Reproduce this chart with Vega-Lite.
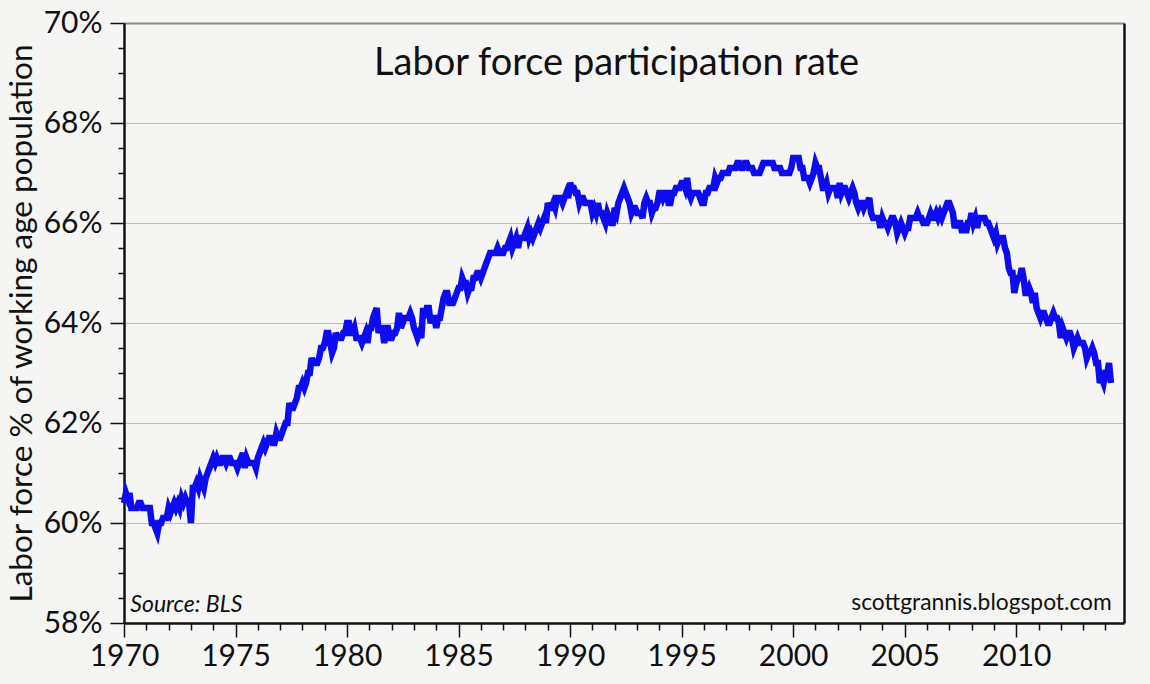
{
  "$schema": "https://vega.github.io/schema/vega-lite/v6.json",
  "width": 1000,
  "height": 600,
  "autosize": {"type": "none"},
  "padding": {"left": 124, "top": 23, "right": 26, "bottom": 61},
  "background": "#f5f5f3",
  "config": {
    "view": {"stroke": null},
    "font": "Lato",
    "text": {"font": "Lato", "color": "#111"}
  },
  "resolve": {"axis": {"y": "independent"}},
  "layer": [
    {
      "data": {
        "values": [
          {"d":"1970-01","v":60.4},{"d":"1970-02","v":60.6},{"d":"1970-03","v":60.5},{"d":"1970-04","v":60.6},{"d":"1970-05","v":60.3},{"d":"1970-06","v":60.3},{"d":"1970-07","v":60.3},{"d":"1970-08","v":60.3},{"d":"1970-09","v":60.4},{"d":"1970-10","v":60.4},{"d":"1970-11","v":60.3},{"d":"1970-12","v":60.3},
          {"d":"1971-01","v":60.3},{"d":"1971-02","v":60.3},{"d":"1971-03","v":60.3},{"d":"1971-04","v":60.0},{"d":"1971-05","v":60.0},{"d":"1971-06","v":59.9},{"d":"1971-07","v":59.8},{"d":"1971-08","v":60.0},{"d":"1971-09","v":60.0},{"d":"1971-10","v":60.1},{"d":"1971-11","v":60.1},{"d":"1971-12","v":60.1},
          {"d":"1972-01","v":60.3},{"d":"1972-02","v":60.2},{"d":"1972-03","v":60.3},{"d":"1972-04","v":60.4},{"d":"1972-05","v":60.3},{"d":"1972-06","v":60.4},{"d":"1972-07","v":60.3},{"d":"1972-08","v":60.5},{"d":"1972-09","v":60.4},{"d":"1972-10","v":60.5},{"d":"1972-11","v":60.4},{"d":"1972-12","v":60.4},
          {"d":"1973-01","v":60.0},{"d":"1973-02","v":60.7},{"d":"1973-03","v":60.7},{"d":"1973-04","v":60.8},{"d":"1973-05","v":60.7},{"d":"1973-06","v":60.9},{"d":"1973-07","v":60.8},{"d":"1973-08","v":60.7},{"d":"1973-09","v":60.9},{"d":"1973-10","v":61.0},{"d":"1973-11","v":61.1},{"d":"1973-12","v":61.2},
          {"d":"1974-01","v":61.3},{"d":"1974-02","v":61.2},{"d":"1974-03","v":61.3},{"d":"1974-04","v":61.2},{"d":"1974-05","v":61.2},{"d":"1974-06","v":61.3},{"d":"1974-07","v":61.3},{"d":"1974-08","v":61.2},{"d":"1974-09","v":61.3},{"d":"1974-10","v":61.3},{"d":"1974-11","v":61.2},{"d":"1974-12","v":61.2},
          {"d":"1975-01","v":61.2},{"d":"1975-02","v":61.1},{"d":"1975-03","v":61.2},{"d":"1975-04","v":61.3},{"d":"1975-05","v":61.4},{"d":"1975-06","v":61.1},{"d":"1975-07","v":61.3},{"d":"1975-08","v":61.2},{"d":"1975-09","v":61.2},{"d":"1975-10","v":61.2},{"d":"1975-11","v":61.2},{"d":"1975-12","v":61.1},
          {"d":"1976-01","v":61.3},{"d":"1976-02","v":61.4},{"d":"1976-03","v":61.5},{"d":"1976-04","v":61.6},{"d":"1976-05","v":61.5},{"d":"1976-06","v":61.6},{"d":"1976-07","v":61.7},{"d":"1976-08","v":61.7},{"d":"1976-09","v":61.6},{"d":"1976-10","v":61.6},{"d":"1976-11","v":61.8},{"d":"1976-12","v":61.7},
          {"d":"1977-01","v":61.7},{"d":"1977-02","v":61.8},{"d":"1977-03","v":61.9},{"d":"1977-04","v":62.0},{"d":"1977-05","v":62.0},{"d":"1977-06","v":62.4},{"d":"1977-07","v":62.3},{"d":"1977-08","v":62.3},{"d":"1977-09","v":62.4},{"d":"1977-10","v":62.5},{"d":"1977-11","v":62.7},{"d":"1977-12","v":62.7},
          {"d":"1978-01","v":62.8},{"d":"1978-02","v":62.7},{"d":"1978-03","v":62.8},{"d":"1978-04","v":63.0},{"d":"1978-05","v":63.0},{"d":"1978-06","v":63.3},{"d":"1978-07","v":63.2},{"d":"1978-08","v":63.2},{"d":"1978-09","v":63.2},{"d":"1978-10","v":63.3},{"d":"1978-11","v":63.5},{"d":"1978-12","v":63.5},
          {"d":"1979-01","v":63.6},{"d":"1979-02","v":63.8},{"d":"1979-03","v":63.8},{"d":"1979-04","v":63.6},{"d":"1979-05","v":63.4},{"d":"1979-06","v":63.5},{"d":"1979-07","v":63.8},{"d":"1979-08","v":63.7},{"d":"1979-09","v":63.7},{"d":"1979-10","v":63.7},{"d":"1979-11","v":63.8},{"d":"1979-12","v":63.8},
          {"d":"1980-01","v":64.0},{"d":"1980-02","v":64.0},{"d":"1980-03","v":63.8},{"d":"1980-04","v":63.8},{"d":"1980-05","v":63.9},{"d":"1980-06","v":63.7},{"d":"1980-07","v":63.7},{"d":"1980-08","v":63.7},{"d":"1980-09","v":63.6},{"d":"1980-10","v":63.7},{"d":"1980-11","v":63.8},{"d":"1980-12","v":63.6},
          {"d":"1981-01","v":63.9},{"d":"1981-02","v":63.9},{"d":"1981-03","v":64.1},{"d":"1981-04","v":64.2},{"d":"1981-05","v":64.3},{"d":"1981-06","v":63.8},{"d":"1981-07","v":63.9},{"d":"1981-08","v":63.9},{"d":"1981-09","v":63.6},{"d":"1981-10","v":63.9},{"d":"1981-11","v":63.9},{"d":"1981-12","v":63.7},
          {"d":"1982-01","v":63.7},{"d":"1982-02","v":63.8},{"d":"1982-03","v":63.8},{"d":"1982-04","v":63.9},{"d":"1982-05","v":64.2},{"d":"1982-06","v":63.9},{"d":"1982-07","v":64.0},{"d":"1982-08","v":64.1},{"d":"1982-09","v":64.1},{"d":"1982-10","v":64.1},{"d":"1982-11","v":64.2},{"d":"1982-12","v":64.1},
          {"d":"1983-01","v":63.9},{"d":"1983-02","v":63.8},{"d":"1983-03","v":63.7},{"d":"1983-04","v":63.8},{"d":"1983-05","v":63.7},{"d":"1983-06","v":64.3},{"d":"1983-07","v":64.1},{"d":"1983-08","v":64.3},{"d":"1983-09","v":64.3},{"d":"1983-10","v":64.0},{"d":"1983-11","v":64.1},{"d":"1983-12","v":64.1},
          {"d":"1984-01","v":63.9},{"d":"1984-02","v":64.1},{"d":"1984-03","v":64.1},{"d":"1984-04","v":64.3},{"d":"1984-05","v":64.5},{"d":"1984-06","v":64.6},{"d":"1984-07","v":64.6},{"d":"1984-08","v":64.4},{"d":"1984-09","v":64.4},{"d":"1984-10","v":64.4},{"d":"1984-11","v":64.5},{"d":"1984-12","v":64.6},
          {"d":"1985-01","v":64.7},{"d":"1985-02","v":64.7},{"d":"1985-03","v":64.9},{"d":"1985-04","v":64.8},{"d":"1985-05","v":64.8},{"d":"1985-06","v":64.6},{"d":"1985-07","v":64.7},{"d":"1985-08","v":64.7},{"d":"1985-09","v":64.9},{"d":"1985-10","v":64.9},{"d":"1985-11","v":65.0},{"d":"1985-12","v":65.0},
          {"d":"1986-01","v":64.9},{"d":"1986-02","v":65.0},{"d":"1986-03","v":65.1},{"d":"1986-04","v":65.2},{"d":"1986-05","v":65.3},{"d":"1986-06","v":65.4},{"d":"1986-07","v":65.4},{"d":"1986-08","v":65.4},{"d":"1986-09","v":65.4},{"d":"1986-10","v":65.5},{"d":"1986-11","v":65.4},{"d":"1986-12","v":65.4},
          {"d":"1987-01","v":65.4},{"d":"1987-02","v":65.5},{"d":"1987-03","v":65.5},{"d":"1987-04","v":65.6},{"d":"1987-05","v":65.7},{"d":"1987-06","v":65.5},{"d":"1987-07","v":65.6},{"d":"1987-08","v":65.7},{"d":"1987-09","v":65.5},{"d":"1987-10","v":65.7},{"d":"1987-11","v":65.7},{"d":"1987-12","v":65.7},
          {"d":"1988-01","v":65.8},{"d":"1988-02","v":65.9},{"d":"1988-03","v":65.7},{"d":"1988-04","v":65.8},{"d":"1988-05","v":65.7},{"d":"1988-06","v":65.8},{"d":"1988-07","v":65.9},{"d":"1988-08","v":66.0},{"d":"1988-09","v":65.9},{"d":"1988-10","v":66.0},{"d":"1988-11","v":66.1},{"d":"1988-12","v":66.0},
          {"d":"1989-01","v":66.4},{"d":"1989-02","v":66.3},{"d":"1989-03","v":66.3},{"d":"1989-04","v":66.4},{"d":"1989-05","v":66.3},{"d":"1989-06","v":66.5},{"d":"1989-07","v":66.5},{"d":"1989-08","v":66.5},{"d":"1989-09","v":66.4},{"d":"1989-10","v":66.5},{"d":"1989-11","v":66.6},{"d":"1989-12","v":66.5},
          {"d":"1990-01","v":66.8},{"d":"1990-02","v":66.7},{"d":"1990-03","v":66.7},{"d":"1990-04","v":66.6},{"d":"1990-05","v":66.6},{"d":"1990-06","v":66.4},{"d":"1990-07","v":66.5},{"d":"1990-08","v":66.5},{"d":"1990-09","v":66.4},{"d":"1990-10","v":66.4},{"d":"1990-11","v":66.4},{"d":"1990-12","v":66.4},
          {"d":"1991-01","v":66.2},{"d":"1991-02","v":66.3},{"d":"1991-03","v":66.2},{"d":"1991-04","v":66.4},{"d":"1991-05","v":66.2},{"d":"1991-06","v":66.2},{"d":"1991-07","v":66.1},{"d":"1991-08","v":66.0},{"d":"1991-09","v":66.2},{"d":"1991-10","v":66.1},{"d":"1991-11","v":66.0},{"d":"1991-12","v":66.0},
          {"d":"1992-01","v":66.3},{"d":"1992-02","v":66.2},{"d":"1992-03","v":66.4},{"d":"1992-04","v":66.5},{"d":"1992-05","v":66.6},{"d":"1992-06","v":66.7},{"d":"1992-07","v":66.6},{"d":"1992-08","v":66.5},{"d":"1992-09","v":66.4},{"d":"1992-10","v":66.2},{"d":"1992-11","v":66.3},{"d":"1992-12","v":66.3},
          {"d":"1993-01","v":66.2},{"d":"1993-02","v":66.2},{"d":"1993-03","v":66.2},{"d":"1993-04","v":66.1},{"d":"1993-05","v":66.4},{"d":"1993-06","v":66.5},{"d":"1993-07","v":66.4},{"d":"1993-08","v":66.4},{"d":"1993-09","v":66.2},{"d":"1993-10","v":66.3},{"d":"1993-11","v":66.3},{"d":"1993-12","v":66.4},
          {"d":"1994-01","v":66.6},{"d":"1994-02","v":66.6},{"d":"1994-03","v":66.5},{"d":"1994-04","v":66.6},{"d":"1994-05","v":66.6},{"d":"1994-06","v":66.4},{"d":"1994-07","v":66.4},{"d":"1994-08","v":66.6},{"d":"1994-09","v":66.6},{"d":"1994-10","v":66.7},{"d":"1994-11","v":66.7},{"d":"1994-12","v":66.7},
          {"d":"1995-01","v":66.8},{"d":"1995-02","v":66.8},{"d":"1995-03","v":66.7},{"d":"1995-04","v":66.9},{"d":"1995-05","v":66.6},{"d":"1995-06","v":66.5},{"d":"1995-07","v":66.6},{"d":"1995-08","v":66.6},{"d":"1995-09","v":66.6},{"d":"1995-10","v":66.6},{"d":"1995-11","v":66.5},{"d":"1995-12","v":66.4},
          {"d":"1996-01","v":66.4},{"d":"1996-02","v":66.6},{"d":"1996-03","v":66.6},{"d":"1996-04","v":66.7},{"d":"1996-05","v":66.7},{"d":"1996-06","v":66.7},{"d":"1996-07","v":66.9},{"d":"1996-08","v":66.8},{"d":"1996-09","v":66.9},{"d":"1996-10","v":66.9},{"d":"1996-11","v":67.0},{"d":"1996-12","v":67.0},
          {"d":"1997-01","v":67.0},{"d":"1997-02","v":67.0},{"d":"1997-03","v":67.1},{"d":"1997-04","v":67.1},{"d":"1997-05","v":67.1},{"d":"1997-06","v":67.1},{"d":"1997-07","v":67.2},{"d":"1997-08","v":67.2},{"d":"1997-09","v":67.1},{"d":"1997-10","v":67.1},{"d":"1997-11","v":67.2},{"d":"1997-12","v":67.2},
          {"d":"1998-01","v":67.1},{"d":"1998-02","v":67.1},{"d":"1998-03","v":67.1},{"d":"1998-04","v":67.0},{"d":"1998-05","v":67.0},{"d":"1998-06","v":67.0},{"d":"1998-07","v":67.0},{"d":"1998-08","v":67.1},{"d":"1998-09","v":67.2},{"d":"1998-10","v":67.2},{"d":"1998-11","v":67.2},{"d":"1998-12","v":67.2},
          {"d":"1999-01","v":67.2},{"d":"1999-02","v":67.2},{"d":"1999-03","v":67.1},{"d":"1999-04","v":67.1},{"d":"1999-05","v":67.1},{"d":"1999-06","v":67.1},{"d":"1999-07","v":67.0},{"d":"1999-08","v":67.0},{"d":"1999-09","v":67.0},{"d":"1999-10","v":67.0},{"d":"1999-11","v":67.0},{"d":"1999-12","v":67.1},
          {"d":"2000-01","v":67.3},{"d":"2000-02","v":67.3},{"d":"2000-03","v":67.3},{"d":"2000-04","v":67.3},{"d":"2000-05","v":67.1},{"d":"2000-06","v":67.1},{"d":"2000-07","v":66.9},{"d":"2000-08","v":66.9},{"d":"2000-09","v":66.9},{"d":"2000-10","v":66.8},{"d":"2000-11","v":66.9},{"d":"2000-12","v":67.0},
          {"d":"2001-01","v":67.2},{"d":"2001-02","v":67.1},{"d":"2001-03","v":67.1},{"d":"2001-04","v":66.9},{"d":"2001-05","v":66.7},{"d":"2001-06","v":66.7},{"d":"2001-07","v":66.8},{"d":"2001-08","v":66.6},{"d":"2001-09","v":66.7},{"d":"2001-10","v":66.7},{"d":"2001-11","v":66.7},{"d":"2001-12","v":66.7},
          {"d":"2002-01","v":66.5},{"d":"2002-02","v":66.8},{"d":"2002-03","v":66.6},{"d":"2002-04","v":66.7},{"d":"2002-05","v":66.7},{"d":"2002-06","v":66.6},{"d":"2002-07","v":66.5},{"d":"2002-08","v":66.6},{"d":"2002-09","v":66.7},{"d":"2002-10","v":66.6},{"d":"2002-11","v":66.4},{"d":"2002-12","v":66.3},
          {"d":"2003-01","v":66.4},{"d":"2003-02","v":66.4},{"d":"2003-03","v":66.3},{"d":"2003-04","v":66.4},{"d":"2003-05","v":66.4},{"d":"2003-06","v":66.5},{"d":"2003-07","v":66.2},{"d":"2003-08","v":66.1},{"d":"2003-09","v":66.1},{"d":"2003-10","v":66.1},{"d":"2003-11","v":66.1},{"d":"2003-12","v":65.9},
          {"d":"2004-01","v":66.1},{"d":"2004-02","v":66.0},{"d":"2004-03","v":66.0},{"d":"2004-04","v":65.9},{"d":"2004-05","v":66.0},{"d":"2004-06","v":66.1},{"d":"2004-07","v":66.1},{"d":"2004-08","v":66.0},{"d":"2004-09","v":65.8},{"d":"2004-10","v":65.9},{"d":"2004-11","v":66.0},{"d":"2004-12","v":65.9},
          {"d":"2005-01","v":65.8},{"d":"2005-02","v":65.9},{"d":"2005-03","v":65.9},{"d":"2005-04","v":66.1},{"d":"2005-05","v":66.1},{"d":"2005-06","v":66.1},{"d":"2005-07","v":66.1},{"d":"2005-08","v":66.2},{"d":"2005-09","v":66.1},{"d":"2005-10","v":66.1},{"d":"2005-11","v":66.0},{"d":"2005-12","v":66.0},
          {"d":"2006-01","v":66.0},{"d":"2006-02","v":66.1},{"d":"2006-03","v":66.2},{"d":"2006-04","v":66.1},{"d":"2006-05","v":66.1},{"d":"2006-06","v":66.2},{"d":"2006-07","v":66.1},{"d":"2006-08","v":66.2},{"d":"2006-09","v":66.1},{"d":"2006-10","v":66.2},{"d":"2006-11","v":66.3},{"d":"2006-12","v":66.4},
          {"d":"2007-01","v":66.4},{"d":"2007-02","v":66.3},{"d":"2007-03","v":66.2},{"d":"2007-04","v":65.9},{"d":"2007-05","v":66.0},{"d":"2007-06","v":66.0},{"d":"2007-07","v":66.0},{"d":"2007-08","v":65.8},{"d":"2007-09","v":66.0},{"d":"2007-10","v":65.8},{"d":"2007-11","v":66.0},{"d":"2007-12","v":66.0},
          {"d":"2008-01","v":66.2},{"d":"2008-02","v":66.0},{"d":"2008-03","v":66.1},{"d":"2008-04","v":65.9},{"d":"2008-05","v":66.1},{"d":"2008-06","v":66.1},{"d":"2008-07","v":66.1},{"d":"2008-08","v":66.1},{"d":"2008-09","v":66.0},{"d":"2008-10","v":66.0},{"d":"2008-11","v":65.9},{"d":"2008-12","v":65.8},
          {"d":"2009-01","v":65.7},{"d":"2009-02","v":65.8},{"d":"2009-03","v":65.6},{"d":"2009-04","v":65.7},{"d":"2009-05","v":65.7},{"d":"2009-06","v":65.7},{"d":"2009-07","v":65.5},{"d":"2009-08","v":65.4},{"d":"2009-09","v":65.1},{"d":"2009-10","v":65.0},{"d":"2009-11","v":65.0},{"d":"2009-12","v":64.6},
          {"d":"2010-01","v":64.8},{"d":"2010-02","v":64.9},{"d":"2010-03","v":64.9},{"d":"2010-04","v":65.1},{"d":"2010-05","v":64.9},{"d":"2010-06","v":64.6},{"d":"2010-07","v":64.6},{"d":"2010-08","v":64.7},{"d":"2010-09","v":64.6},{"d":"2010-10","v":64.4},{"d":"2010-11","v":64.6},{"d":"2010-12","v":64.3},
          {"d":"2011-01","v":64.2},{"d":"2011-02","v":64.1},{"d":"2011-03","v":64.2},{"d":"2011-04","v":64.2},{"d":"2011-05","v":64.1},{"d":"2011-06","v":64.0},{"d":"2011-07","v":64.0},{"d":"2011-08","v":64.1},{"d":"2011-09","v":64.2},{"d":"2011-10","v":64.1},{"d":"2011-11","v":64.1},{"d":"2011-12","v":64.0},
          {"d":"2012-01","v":63.7},{"d":"2012-02","v":63.9},{"d":"2012-03","v":63.8},{"d":"2012-04","v":63.7},{"d":"2012-05","v":63.8},{"d":"2012-06","v":63.8},{"d":"2012-07","v":63.7},{"d":"2012-08","v":63.5},{"d":"2012-09","v":63.6},{"d":"2012-10","v":63.7},{"d":"2012-11","v":63.6},{"d":"2012-12","v":63.6},
          {"d":"2013-01","v":63.6},{"d":"2013-02","v":63.5},{"d":"2013-03","v":63.3},{"d":"2013-04","v":63.4},{"d":"2013-05","v":63.4},{"d":"2013-06","v":63.5},{"d":"2013-07","v":63.4},{"d":"2013-08","v":63.2},{"d":"2013-09","v":63.2},{"d":"2013-10","v":62.8},{"d":"2013-11","v":62.9},{"d":"2013-12","v":62.8},
          {"d":"2014-01","v":63.0},{"d":"2014-02","v":63.0},{"d":"2014-03","v":63.2},{"d":"2014-04","v":62.8}
        ]
      },
      "mark": {"type": "line", "color": "#0c0cee", "strokeWidth": 6.5},
      "encoding": {
        "x": {
          "field": "d",
          "type": "temporal",
          "scale": {"domain": [{"year": 1970, "month": 1, "date": 1}, {"year": 2014, "month": 11, "date": 1}]},
          "axis": {
            "title": null,
            "grid": false,
            "tickCount": {"interval": "year", "step": 1},
            "labelExpr": "year(datum.value) % 5 === 0 ? timeFormat(datum.value, '%Y') : ''",
            "labelOverlap": false,
            "labelFlush": false,
            "labelFontSize": 30,
            "labelColor": "#111",
            "labelPadding": 4,
            "tickSize": {"condition": {"test": "year(datum.value) % 5 === 0", "value": 14}, "value": 7},
            "tickColor": "#111",
            "tickWidth": 1.5,
            "domainColor": "#111",
            "domainWidth": 2.5
          }
        },
        "y": {
          "field": "v",
          "type": "quantitative",
          "scale": {"domain": [58, 70], "nice": false, "zero": false},
          "axis": {
            "title": "Labor force % of working age population",
            "titleFontSize": 31.5,
            "titleFontWeight": "normal",
            "titleColor": "#111",
            "titleX": -86,
            "titleY": 300,
            "values": [58, 58.5, 59, 59.5, 60, 60.5, 61, 61.5, 62, 62.5, 63, 63.5, 64, 64.5, 65, 65.5, 66, 66.5, 67, 67.5, 68, 68.5, 69, 69.5, 70],
            "labelExpr": "datum.value % 2 === 0 ? datum.value + '%' : ''",
            "labelOverlap": false,
            "labelFlush": false,
            "labelFontSize": 30,
            "labelColor": "#111",
            "labelPadding": 8,
            "tickSize": {"condition": {"test": "datum.value % 2 === 0", "value": 14}, "value": 6},
            "tickColor": "#111",
            "tickWidth": 1.5,
            "domainColor": "#111",
            "domainWidth": 2.5,
            "grid": true,
            "gridColor": {"condition": {"test": "datum.value === 70", "value": "#8a8a8a"}, "value": "#a3c2d6"},
            "gridWidth": {"condition": {"test": "datum.value === 70", "value": 2}, "value": 1},
            "gridOpacity": {"condition": {"test": "datum.value % 2 === 0 && datum.value > 58", "value": 1}, "value": 0}
          }
        }
      }
    },
    {
      "data": {"values": [{}]},
      "mark": {"type": "text", "fontSize": 38, "align": "center", "baseline": "alphabetic"},
      "encoding": {
        "x": {"datum": {"year": 1992, "month": 2, "date": 1}, "type": "temporal"},
        "y": {
          "datum": 68.96,
          "type": "quantitative",
          "axis": {"orient": "right", "title": null, "labels": false, "ticks": false, "grid": false, "domainColor": "#111", "domainWidth": 2.5}
        },
        "text": {"value": "Labor force participation rate"}
      }
    },
    {
      "data": {"values": [{}]},
      "mark": {"type": "text", "fontSize": 23, "fontStyle": "italic", "align": "left", "baseline": "alphabetic"},
      "encoding": {
        "x": {"datum": {"year": 1970, "month": 4, "date": 15}, "type": "temporal"},
        "y": {"datum": 58.22, "type": "quantitative", "axis": null},
        "text": {"value": "Source: BLS"}
      }
    },
    {
      "data": {"values": [{}]},
      "mark": {"type": "text", "fontSize": 22.8, "align": "right", "baseline": "alphabetic"},
      "encoding": {
        "x": {"datum": {"year": 2014, "month": 4, "date": 15}, "type": "temporal"},
        "y": {"datum": 58.26, "type": "quantitative", "axis": null},
        "text": {"value": "scottgrannis.blogspot.com"}
      }
    }
  ]
}
